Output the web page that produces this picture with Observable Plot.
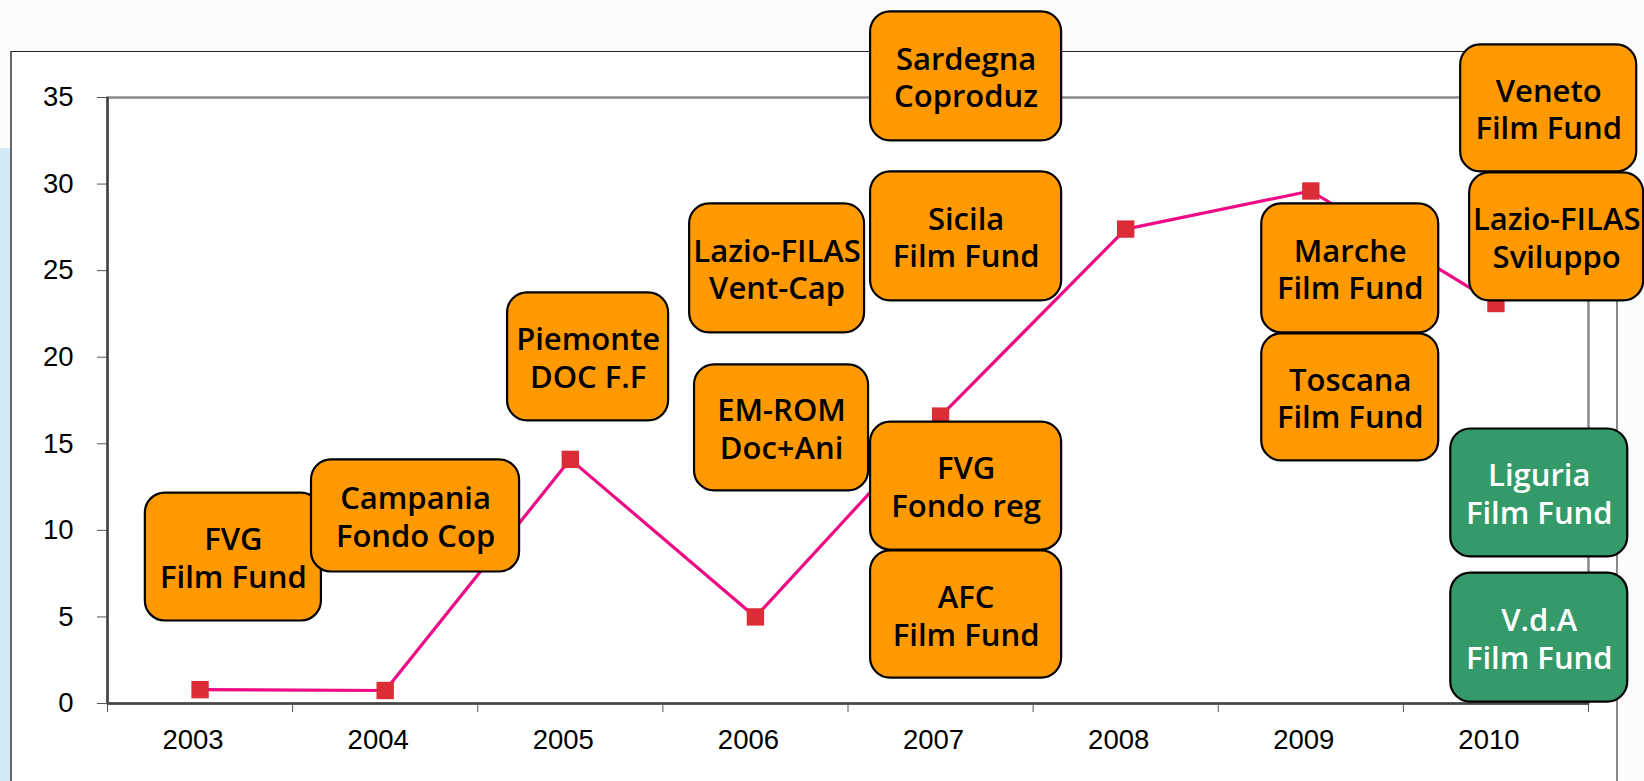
<!DOCTYPE html>
<html>
<head>
<meta charset="utf-8">
<script src="https://cdn.jsdelivr.net/npm/d3@7"></script>
<script src="https://cdn.jsdelivr.net/npm/@observablehq/plot@0.6"></script>
<style>
  html, body { margin: 0; padding: 0; background: #fcfcfc; }
  #wrap { position: relative; width: 1644px; height: 781px; overflow: hidden; }
  #band { position: absolute; left: 0; top: 148px; width: 12px; height: 640px; background: #d3e9f5; }
  #frame { position: absolute; left: 10px; top: 51px; width: 1604px; height: 760px; background: #ffffff;
           border-top: 1.5px solid #222; border-left: 2px solid #666; border-right: 2px solid #888; }
  #chart { position: absolute; left: 0; top: 0; }
  #chart svg { overflow: visible; }
</style>
</head>
<body>
<div id="wrap">
  <div id="band"></div>
  <div id="frame"></div>
  <div id="chart"></div>
</div>
<script>
// ---- data ----
const years  = [2003, 2004, 2005, 2006, 2007, 2008, 2009, 2010];
const values = [0.8, 0.75, 14.1, 5.0, 16.6, 27.4, 29.6, 23.1];
const yTicks = [0, 5, 10, 15, 20, 25, 30, 35];

// fund annotations (label, colour kind)
const fundLabels = [
  "FVG\nFilm Fund", "Campania\nFondo Cop", "Piemonte\nDOC F.F", "Lazio-FILAS\nVent-Cap",
  "EM-ROM\nDoc+Ani", "Sardegna\nCoproduz", "Sicila\nFilm Fund", "FVG\nFondo reg",
  "AFC\nFilm Fund", "Marche\nFilm Fund", "Toscana\nFilm Fund", "Veneto\nFilm Fund",
  "Lazio-FILAS\nSviluppo", "Liguria\nFilm Fund", "V.d.A\nFilm Fund"
];
const fundKind = ["o","o","o","o","o","o","o","o","o","o","o","o","o","g","g"];
// annotation layout in data units (x in years, y in chart units)
const fundX = [2003.18, 2004.164, 2005.096, 2006.117, 2006.141, 2007.138, 2007.138, 2007.138,
               2007.138, 2009.213, 2009.213, 2010.285, 2010.328, 2010.234, 2010.234];
const fundY = [8.46, 10.83, 20.02, 25.13, 15.92, 36.22, 26.98, 12.56,
               5.14, 25.13, 17.68, 34.37, 26.95, 12.16, 3.81];
const fundW = [0.951, 1.124, 0.870, 0.945, 0.940, 1.032, 1.032, 1.032,
               1.032, 0.956, 0.956, 0.951, 0.940, 0.956, 0.956];
const fundH = [7.39, 6.47, 7.39, 7.45, 7.28, 7.45, 7.45, 7.39,
               7.34, 7.45, 7.34, 7.34, 7.39, 7.39, 7.45];

// ---- build tables ----
const series = years.map((y, i) => ({year: y, value: values[i]}));
const funds = fundLabels.map((t, i) => ({
  label: t, kind: fundKind[i],
  x1: fundX[i] - fundW[i] / 2, x2: fundX[i] + fundW[i] / 2,
  y1: fundY[i] - fundH[i] / 2, y2: fundY[i] + fundH[i] / 2,
  cx: fundX[i], cy: fundY[i]
}));
const bounds = d3.range(years.length + 1).map(i => years[0] - 0.5 + i);

const chart = Plot.plot({
  width: 1644,
  height: 781,
  marginTop: 97,
  marginBottom: 78,
  marginLeft: 107,
  marginRight: 56,
  style: {fontFamily: "Liberation Sans, Arial, sans-serif", fontSize: "27px", background: "transparent", overflow: "visible"},
  x: {type: "linear", domain: [years[0] - 0.5, years[years.length - 1] + 0.5]},
  y: {domain: [0, 35]},
  marks: [
    Plot.frame({stroke: "#8a8a8a", strokeWidth: 2.5}),
    Plot.axisY({ticks: yTicks, tickSize: 10, tickPadding: 24, label: null, fill: "#000", stroke: "#555", fontSize: 27.5}),
    Plot.ruleX([years[0] - 0.5], {stroke: "#444", strokeWidth: 2.5}),
    Plot.ruleY([0], {stroke: "#444", strokeWidth: 2.5}),
    Plot.axisX({ticks: bounds, tickFormat: () => "", tickSize: 9, label: null, stroke: "#555"}),
    Plot.axisX({ticks: years, tickFormat: d => String(d), tickSize: 0, tickPadding: 26, dx: -7, label: null, fill: "#000", fontSize: 27.5}),
    Plot.line(series, {x: "year", y: "value", stroke: "#ee0a84", strokeWidth: 3.2}),
    Plot.dot(series, {x: "year", y: "value", symbol: "square", r: 9.8, fill: "#dc2d36", stroke: "none"}),
    Plot.rect(funds, {x1: "x1", x2: "x2", y1: "y1", y2: "y2", rx: 20,
      fill: d => d.kind === "g" ? "#349a69" : "#ff9900", stroke: "#000", strokeWidth: 2.2}),
    Plot.text(funds, {x: "cx", y: "cy", text: "label", fontFamily: "Open Sans", fontWeight: 600,
      fontSize: 31, lineHeight: 1.22, fill: d => d.kind === "g" ? "#ffffff" : "#000000"})
  ]
});
document.getElementById("chart").appendChild(chart);
</script>
</body>
</html>
